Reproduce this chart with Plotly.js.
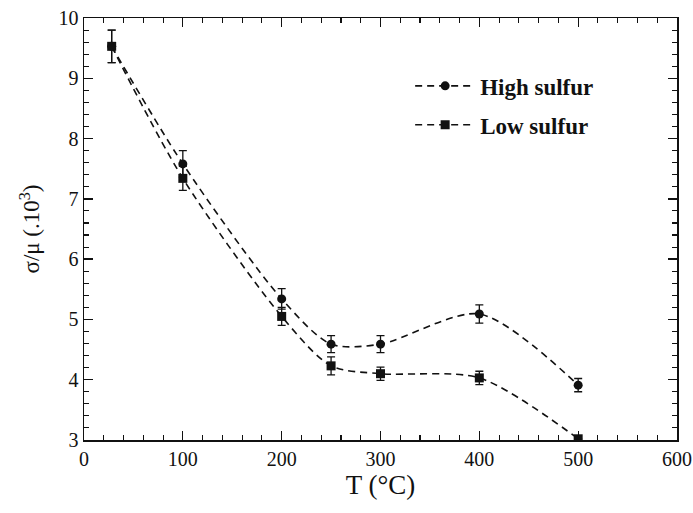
<!DOCTYPE html>
<html><head><meta charset="utf-8">
<script src="https://cdn.plot.ly/plotly-3.0.1.min.js"></script>
<style>body{margin:0;background:#fff}#c{width:693px;height:513px}</style>
</head><body><div id="c"></div>
<script>
const temps = [28, 100, 200, 250, 300, 400, 500];
const highSulfur = [9.53, 7.58, 5.34, 4.59, 4.59, 5.09, 3.91];
const highErr = [0.27, 0.22, 0.17, 0.14, 0.14, 0.15, 0.11];
const lowSulfur = [9.53, 7.34, 5.05, 4.23, 4.1, 4.03, 3.02];
const lowErr = [0.27, 0.2, 0.15, 0.15, 0.11, 0.11, 0.0];
const seriesNames = ['High sulfur', 'Low sulfur'];
const xTicks = [0, 100, 200, 300, 400, 500, 600];
const yTicks = [3, 4, 5, 6, 7, 8, 9, 10];

const lineStyle = {color: '#111', width: 1.6, dash: '7px,5px', shape: 'spline', smoothing: 0.8};
const traces = [
  {x: temps, y: highSulfur, name: seriesNames[0], legendgroup: 'a', mode: 'lines+markers', type: 'scatter',
   line: lineStyle, marker: {symbol: 'circle', size: 9, color: '#111'},
   error_y: {type: 'data', array: highErr, visible: true, color: '#111', thickness: 1.3, width: 4}},
  {x: temps, y: lowSulfur, name: seriesNames[1], legendgroup: 'b', mode: 'lines+markers', type: 'scatter',
   line: lineStyle, marker: {symbol: 'square', size: 9, color: '#111'},
   error_y: {type: 'data', array: lowErr, visible: true, color: '#111', thickness: 1.3, width: 4}}
];
const serif = 'Liberation Serif, Times New Roman, serif';
const axisCommon = {showgrid: false, zeroline: false, showline: true, linecolor: '#111', linewidth: 1.5,
  mirror: 'allticks', ticks: 'inside', ticklen: 9, tickwidth: 1.3, tickcolor: '#111',
  tickfont: {family: serif, size: 20, color: '#111'}};
const layout = {
  width: 693, height: 513,
  margin: {l: 84, r: 16, t: 18, b: 73},
  paper_bgcolor: '#fff', plot_bgcolor: '#fff',
  showlegend: true,
  legend: {x: 0.55, y: 0.89, xanchor: 'left', yanchor: 'top', bgcolor: 'rgba(0,0,0,0)',
    traceorder: 'grouped', tracegroupgap: 6,
    font: {family: serif, size: 23, color: '#111', weight: 'bold'}, itemwidth: 60},
  xaxis: Object.assign({}, axisCommon, {range: [0, 600], tickvals: xTicks, ticktext: xTicks.map(String),
    minor: {dtick: 20, ticks: 'inside', ticklen: 5, tickwidth: 1.1, tickcolor: '#111'},
    title: {text: 'T (°C)', font: {family: serif, size: 27, color: '#111'}, standoff: 6}}),
  yaxis: Object.assign({}, axisCommon, {range: [3, 10], tickvals: yTicks, ticktext: yTicks.map(String),
    minor: {dtick: 0.2, ticks: 'inside', ticklen: 5, tickwidth: 1.1, tickcolor: '#111'},
    title: {text: 'σ/μ (.10<sup>3</sup>)', font: {family: serif, size: 23, color: '#111'}, standoff: 12}})
};
Plotly.newPlot('c', traces, layout, {displayModeBar: false, staticPlot: true});
</script></body></html>
